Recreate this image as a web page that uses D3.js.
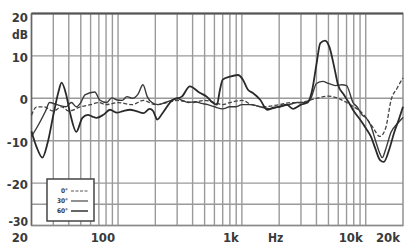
<!DOCTYPE html>
<html>
<head>
<meta charset="utf-8">
<script src="https://cdn.jsdelivr.net/npm/d3@7"></script>
<style>
  body { margin: 0; background: #fff; }
  text { font-family: "Liberation Sans Narrow", "DejaVu Sans Condensed", "Liberation Sans", sans-serif; font-weight: bold; fill: #3a3a3a; }
</style>
</head>
<body>
<div id="chart"></div>
<script>
// tick values
var yTicks = [20, 10, 0, -10, -20, -30];
var yExtraLines = [-25];
var xGrid = [30, 40, 50, 60, 70, 80, 90, 100, 200, 300, 400, 500, 600, 700, 800, 900,
             1000, 2000, 3000, 4000, 5000, 6000, 7000, 8000, 9000, 10000];
var xLabels = [[20, "20"], [100, "100"], [1000, "1k"], [10000, "10k"], [20000, "20k"]];
var legendNames = ["0°", "30°", "60°"];

// series A (dark, big peak near 4.6k)
var freqA = [20,22,24.5,27,30,33,35,38,41,46,51.5,57,62,67,76,86,98,110,125,140,160,180,192,200,207,230,275,327,380,456,520,570,630,660,700,800,930,1020,1120,1220,1410,1600,1800,2000,2300,2600,3000,3400,3700,4000,4300,4700,5100,5600,6000,6600,7300,8000,9000,10000,11000,12000,13000,14000,15500,17000,18500,20000];
var dbA   = [-7.8,-11.5,-14,-10.5,-4,1.5,3.7,1,-3.5,-7.9,-4.6,-3.9,-4.3,-4.6,-3.9,-2.7,-3.4,-3,-2.7,-3,-3.5,-2.5,-3,-4.2,-5,-3.4,-0.4,0.4,2.8,1.3,0.4,-0.8,-1.5,1.5,4.4,5.1,5.5,4.4,2,1.3,-0.4,-2.7,-2.2,-2,-1.5,-2.5,-1.5,-1,2,8,13,13.6,12,7,3,1,-1,-3,-5,-7,-9,-12,-14.5,-15,-12,-8,-5,-2];

// series B (medium, plateau 4k-7k)
var freqB = [20,23,26,28,32,38,42,46,50,54,65,71,81,89,98,108,118,130,145,159,172,188,210,240,270,300,330,370,420,470,530,600,700,800,900,1000,1200,1400,1700,2000,2400,2800,3200,3600,4000,4500,5000,5700,6400,7000,7900,8500,9400,10000,11000,12000,13000,13600,14500,16000,18000,20000];
var dbB   = [-9,-6,-3,-1,-1.5,-2,-1,-2,-1,0.8,1.5,-0.4,-1,0.1,-0.4,-0.5,0.4,0,1,3.2,0.4,-1,-1.5,-1,-0.5,0,-0.5,-1,-0.8,-1.2,-1.5,-2,-2.5,-2,-2,-1.5,-1.5,-2,-2.5,-2,-1.5,-1,-1,0,3.5,4,3.5,3,3.2,3,-1,-2,-4,-4.5,-6.5,-10,-13,-14,-12,-8,-6,-4.5];

// series C (dashed)
var freqC = [20,22,25,30,35,40,50,60,70,80,100,130,160,200,250,300,400,500,600,700,800,1000,1200,1500,2000,2500,3000,3500,4000,5000,6000,7000,8000,9000,10000,11500,13000,14500,16000,18000,20000];
var dbC   = [-4,-2,-2,-3,-2,-3,-2,-1.5,-1,-1.5,-1,-1.5,-0.5,-1.5,-1,-0.5,-1,-0.5,-1,-1.5,-1,-0.5,-1.5,-2,-1.5,-1,-1,-0.5,0,0.5,0,-1,-2,-3,-4.5,-7,-9,-7,-0.5,2.5,4.8];

var W = 406, H = 244;
var svg = d3.select("#chart").append("svg").attr("width", W).attr("height", H);

var x = d3.scaleLog().domain([20, 20000]).range([31.5, 403]);
var y = d3.scaleLinear().domain([20, -30]).range([13.5, 225.5]);

var grid = "#9a9a9a";

// vertical grid
svg.selectAll(".vg").data(xGrid).enter().append("line")
  .attr("x1", function(d) { return x(d); }).attr("x2", function(d) { return x(d); })
  .attr("y1", y(20)).attr("y2", y(-30))
  .attr("stroke", grid).attr("stroke-width", 1.4);

// horizontal grid
svg.selectAll(".hg").data(yTicks.concat(yExtraLines)).enter().append("line")
  .attr("x1", x(20)).attr("x2", x(20000))
  .attr("y1", function(d) { return y(d); }).attr("y2", function(d) { return y(d); })
  .attr("stroke", grid).attr("stroke-width", 1.4);

// frame
svg.append("rect").attr("x", x(20)).attr("y", y(20))
  .attr("width", x(20000) - x(20)).attr("height", y(-30) - y(20))
  .attr("fill", "none").attr("stroke", "#8a8a8a").attr("stroke-width", 1.4);
svg.append("line").attr("x1", x(20)).attr("x2", x(20000)).attr("y1", y(20)).attr("y2", y(20))
  .attr("stroke", "#555").attr("stroke-width", 2);
svg.append("line").attr("x1", x(20)).attr("x2", x(20)).attr("y1", y(20)).attr("y2", y(-30))
  .attr("stroke", "#666").attr("stroke-width", 1.5);

// y labels
svg.selectAll(".yl").data(yTicks).enter().append("text")
  .attr("x", 28).attr("y", function(d) { return y(d) + (d == 20 ? 8 : (d == -30 ? 0.5 : 6)); })
  .attr("text-anchor", "end").attr("font-size", function(d) { return d == -30 ? 12 : 13; })
  .text(function(d) { return d; });
svg.append("text").attr("x", 28).attr("y", 39).attr("text-anchor", "end")
  .attr("font-size", 12).text("dB");

// x labels
svg.selectAll(".xl").data(xLabels).enter().append("text")
  .attr("x", function(d) { return d[0] == 20 ? 28 : x(d[0]) - 3; })
  .attr("y", 242).attr("text-anchor", "end").attr("font-size", 13)
  .text(function(d) { return d[1]; });
svg.append("text").attr("x", 268).attr("y", 242).attr("font-size", 12).text("Hz");

// curves
var line = d3.line().x(function(d) { return x(d[0]); }).y(function(d) { return y(d[1]); })
  .curve(d3.curveMonotoneX);

function pairs(f, v) { return f.map(function(d, i) { return [d, v[i]]; }); }

svg.append("path").datum(pairs(freqC, dbC)).attr("d", line)
  .attr("fill", "none").attr("stroke", "#444").attr("stroke-width", 1.3)
  .attr("stroke-dasharray", "4,2");
svg.append("path").datum(pairs(freqB, dbB)).attr("d", line)
  .attr("fill", "none").attr("stroke", "#3a3a3a").attr("stroke-width", 1.4);
svg.append("path").datum(pairs(freqA, dbA)).attr("d", line)
  .attr("fill", "none").attr("stroke", "#2a2a2a").attr("stroke-width", 1.8);

// legend
var lg = svg.append("g");
lg.append("rect").attr("x", 47).attr("y", 179).attr("width", 47).attr("height", 42)
  .attr("fill", "#fff").attr("stroke", "#444").attr("stroke-width", 1.5);
var dashes = ["3,1.5", null, null];
var widths = [1, 1.3, 1.8];
legendNames.forEach(function(n, i) {
  var yy = 191 + i * 10;
  lg.append("text").attr("x", 68).attr("y", yy + 2).attr("text-anchor", "end")
    .attr("font-size", 6.5).text(n);
  lg.append("line").attr("x1", 71).attr("x2", 88).attr("y1", yy).attr("y2", yy)
    .attr("stroke", "#555").attr("stroke-width", widths[i])
    .attr("stroke-dasharray", dashes[i]);
});
</script>
</body>
</html>
